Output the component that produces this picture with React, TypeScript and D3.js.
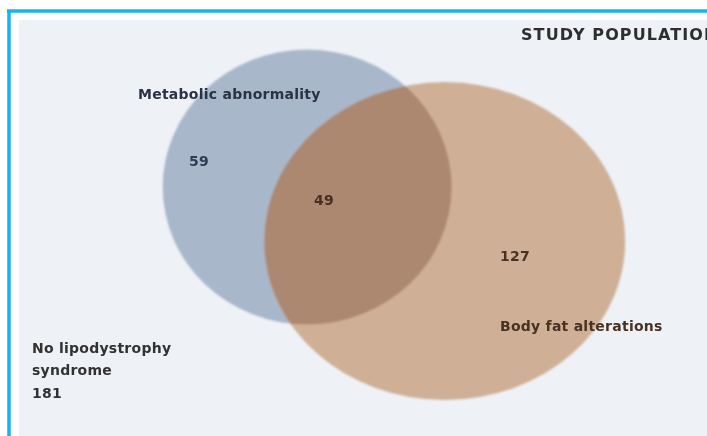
import React from "react";
import * as d3 from "d3";

const W = 707;
const H = 436;

const setNames = ["Metabolic abnormality", "Body fat alterations"];
const onlyCounts = [59, 127];
const overlapCount = 49;
const outsideLabel = ["No lipodystrophy", "syndrome"];
const outsideCount = 181;
const title = "STUDY POPULATION";

// layout in a unit domain, mapped by scales
const sx = d3.scaleLinear().domain([0, 100]).range([0, W]);
const sy = d3.scaleLinear().domain([0, 100]).range([0, H]);

export default function App() {
  const blue = { cx: sx(43.45), cy: sy(42.9), rx: 144.5, ry: 137.5 };
  const orange = { cx: sx(62.9), cy: sy(55.3), rx: 180.5, ry: 159 };
  const font = "'DejaVu Sans', 'Liberation Sans', Arial, sans-serif";
  return (
    <svg
      width={W}
      height={H}
      style={{ position: "absolute", left: 0, top: 0, display: "block" }}
    >
      <defs>
        <clipPath id="clipBlue">
          <ellipse cx={blue.cx} cy={blue.cy} rx={blue.rx} ry={blue.ry} />
        </clipPath>
        <filter id="soft" x="-5%" y="-5%" width="110%" height="110%">
          <feGaussianBlur stdDeviation="0.8" />
        </filter>
        <filter id="softText" x="-5%" y="-20%" width="110%" height="140%">
          <feGaussianBlur stdDeviation="0.45" />
        </filter>
      </defs>
      <rect x={0} y={0} width={W} height={H} fill="#ffffff" />
      <rect x={19} y={20} width={W - 19} height={H - 20} fill="#eef1f6" />
      {/* frame */}
      <line x1={7} y1={11} x2={W} y2={11} stroke="#14b5ee" strokeWidth={3.5} />
      <line x1={9} y1={11} x2={9} y2={H} stroke="#14b5ee" strokeWidth={3.5} />
      <g filter="url(#soft)">
        <ellipse cx={blue.cx} cy={blue.cy} rx={blue.rx} ry={blue.ry} fill="#a8b7ca" />
        <ellipse cx={orange.cx} cy={orange.cy} rx={orange.rx} ry={orange.ry} fill="#cfb096" />
        <ellipse
          cx={orange.cx}
          cy={orange.cy}
          rx={orange.rx}
          ry={orange.ry}
          fill="#ac8870"
          clipPath="url(#clipBlue)"
        />
      </g>
      <g fontFamily={font} fontWeight="bold" fontSize={14} letterSpacing={0.25} filter="url(#softText)">
        <text x={521} y={40} fill="#2e2e2e" fontSize={16} letterSpacing={1.1}>{title}</text>
        <text x={138} y={99} fill="#2a3344">{setNames[0]}</text>
        <text x={189} y={166} fill="#2f3d55">{onlyCounts[0]}</text>
        <text x={314} y={205} fill="#4a2e22">{overlapCount}</text>
        <text x={500} y={261} fill="#4a3222">{onlyCounts[1]}</text>
        <text x={500} y={331} fill="#4a3222">{setNames[1]}</text>
        <text x={32} y={353} fill="#333">{outsideLabel[0]}</text>
        <text x={32} y={375} fill="#333">{outsideLabel[1]}</text>
        <text x={32} y={398} fill="#333">{outsideCount}</text>
      </g>
    </svg>
  );
}
